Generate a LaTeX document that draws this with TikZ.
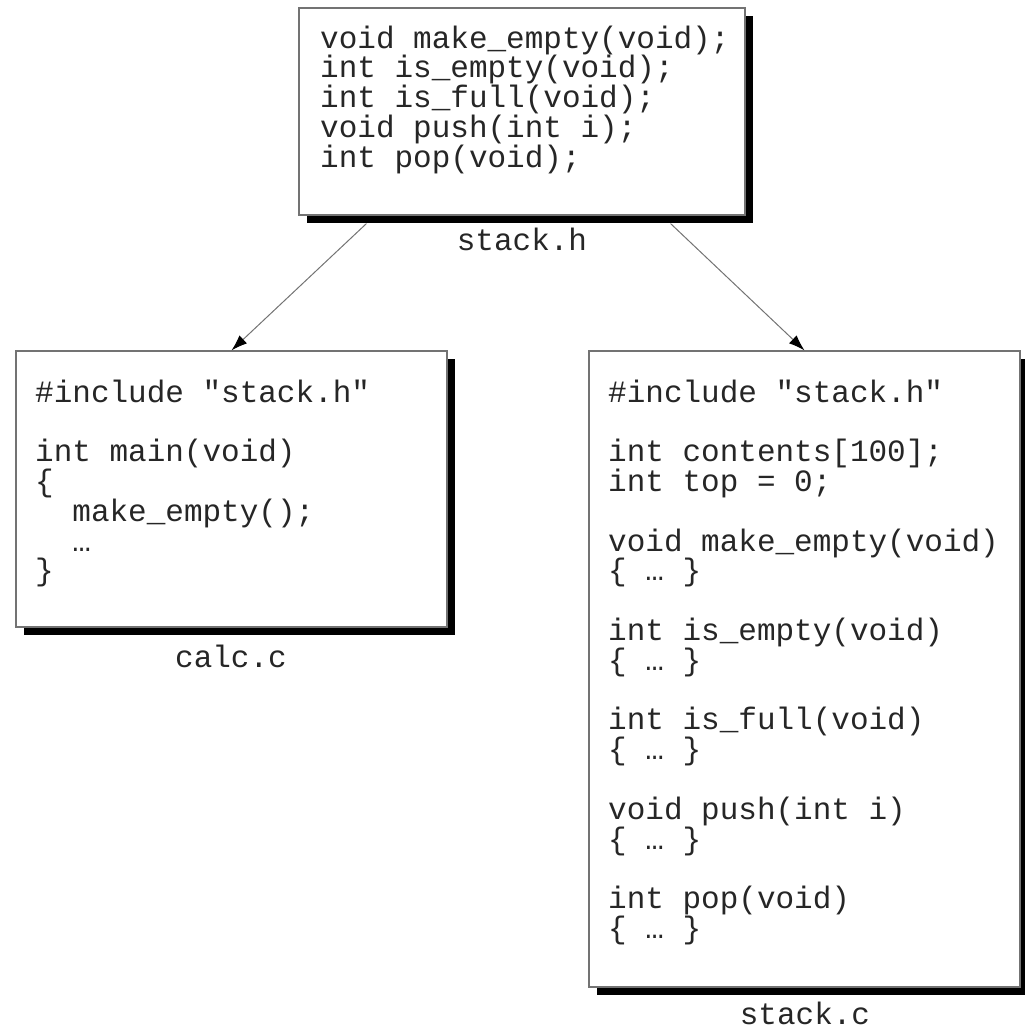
\documentclass[tikz,border=0pt]{standalone}
\usepackage{fontspec}
\setmonofont{Liberation Mono}
\usetikzlibrary{shadows,arrows.meta}
\newcommand{\codefont}{\ttfamily\fontsize{31}{29.8}\selectfont}
\tikzset{
  filebox/.style={draw=black!55, line width=1.2pt, fill=white,
    general shadow={shadow xshift=8pt, shadow yshift=-8pt, fill=black}},
  code/.style={anchor=base west, inner sep=0pt, font=\codefont, text=black!85},
  fname/.style={anchor=base, inner sep=0pt, font=\codefont, text=black!85},
  link/.style={draw=black!55, line width=1pt, -{Latex[length=16pt,width=11pt,color=black]}}
}
\newcommand{\codelines}[1]{\parbox[t]{420pt}{\raggedright\codefont #1}}
\begin{document}
\begin{tikzpicture}[x=1pt,y=1pt]
\useasboundingbox (0,0) rectangle (1025,-1029);
% boxes
\node[filebox, minimum width=446pt, minimum height=207pt] (stackh) at (522,-111.5) {};
\node[filebox, minimum width=431pt, minimum height=276pt] (calc) at (231.5,-489) {};
\node[filebox, minimum width=431pt, minimum height=636pt] (stackc) at (804.5,-669) {};
% code
\node[code] (stackhcode) at (320,-48) {\codelines{%
void make\_empty(void);\\
int is\_empty(void);\\
int is\_full(void);\\
void push(int i);\\
int pop(void);}};
\node[code] (calccode) at (35,-402) {\codelines{%
\#include "stack.h"\\
\mbox{}\\
int main(void)\\
\{\\
\ \ make\_empty();\\
\ \ …\\
\}}};
\node[code] (stackccode) at (608,-402) {\codelines{%
\#include "stack.h"\\
\mbox{}\\
int contents[100];\\
int top = 0;\\
\mbox{}\\
void make\_empty(void)\\
\{ … \}\\
\mbox{}\\
int is\_empty(void)\\
\{ … \}\\
\mbox{}\\
int is\_full(void)\\
\{ … \}\\
\mbox{}\\
void push(int i)\\
\{ … \}\\
\mbox{}\\
int pop(void)\\
\{ … \}}};
% file names
\node[fname] (lh) at (522,-250) {stack.h};
\node[fname] (lcalc) at (231,-667) {calc.c};
\node[fname] (lc) at (805,-1024) {stack.c};
% connectors
\coordinate (s1) at ([xshift=68pt,yshift=-8pt]stackh.south west);
\coordinate (s2) at ([xshift=-75pt,yshift=-8pt]stackh.south east);
\draw[link] (s1) -- (calc.north);
\draw[link] (s2) -- (stackc.north);
\end{tikzpicture}
\end{document}
